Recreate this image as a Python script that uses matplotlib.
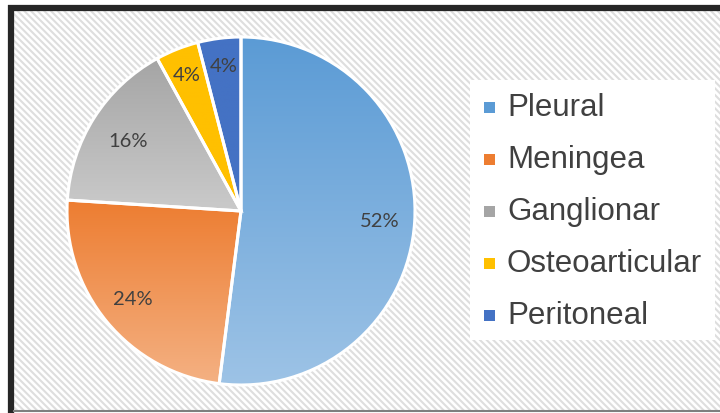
import numpy as np
import matplotlib
matplotlib.use("Agg")
import matplotlib.pyplot as plt
from matplotlib.colors import LinearSegmentedColormap
from matplotlib.patches import Rectangle

# share of cases by localisation
categories = ["Pleural", "Meningea", "Ganglionar", "Osteoarticular", "Peritoneal"]
shares = [52, 24, 16, 4, 4]
labels = ["52%", "24%", "16%", "4%", "4%"]
# (top colour, bottom colour) of each slice's fill gradient
fills = [("#5B9BD5", "#9DC3E6"),
         ("#ED7D31", "#F4B183"),
         ("#A5A5A5", "#CACACA"),
         ("#FFC000", "#FFC000"),
         ("#4472C4", "#4472C4")]

W, H = 720, 413
plt.rcParams["hatch.linewidth"] = 1.5
plt.rcParams["hatch.color"] = "#DEDEDE"

fig = plt.figure(figsize=(W / 100, H / 100), dpi=100)
fig.patch.set_facecolor("white")

# background axes in pixel units for the frame, hatching and legend
bg = fig.add_axes([0, 0, 1, 1])
bg.set_xlim(0, W)
bg.set_ylim(H, 0)
bg.axis("off")
bg.add_patch(Rectangle((14, 10), W - 14, 400, facecolor="white",
                       edgecolor="#DEDEDE", hatch="\\\\\\\\\\", linewidth=0))
bg.plot([8, W], [7.5, 7.5], color="#262626", lw=4.5, solid_capstyle="butt")
bg.plot([11, 11], [5, H], color="#262626", lw=4.5, solid_capstyle="butt")
bg.plot([14, W], [411, 411], color="#7F7F7F", lw=1.5)

# pie axes
pie_ax = fig.add_axes([67 / W, (H - 385) / H, 348 / W, 348 / H])
wedges, _ = pie_ax.pie(shares, startangle=90, counterclock=False,
                       radius=1.0,
                       wedgeprops=dict(edgecolor="white", linewidth=2.2))
pie_ax.axis("off")

# gradient fill, clipped to each slice
for w, (top, bottom) in zip(wedges, fills):
    w.set_facecolor("none")
    ext = w.get_path().get_extents(w.get_patch_transform())
    cmap = LinearSegmentedColormap.from_list("g", [top, bottom])
    grad = np.linspace(0, 1, 256).reshape(-1, 1)
    im = pie_ax.imshow(grad, cmap=cmap, aspect="auto",
                       extent=(ext.x0, ext.x1, ext.y0, ext.y1),
                       origin="upper", zorder=w.get_zorder() - 0.1)
    im.set_clip_path(w)
pie_ax.set_xlim(-1, 1)
pie_ax.set_ylim(-1, 1)

# percentage labels
label_pos = [(0.80, -0.06), (-0.62, -0.51), (-0.65, 0.40),
             (-0.31, 0.78), (-0.10, 0.83)]
for (x, y), txt in zip(label_pos, labels):
    pie_ax.text(x, y, txt, ha="center", va="center", fontsize=14.5,
                color="#404040", family="Lato", zorder=5)

# legend box
bg.add_patch(Rectangle((470, 80), 245, 260, facecolor="white",
                       edgecolor="none", zorder=3))
for i, (name, (top, bottom)) in enumerate(zip(categories, fills)):
    y = 107 + i * 52
    bg.add_patch(Rectangle((484, y - 5), 11, 11, facecolor=top,
                           edgecolor="none", zorder=4))
    bg.text(507, y + 1, name, ha="left", va="center", fontsize=22.5,
            color="#404040", family="Liberation Sans", zorder=4)

fig.savefig("out.png", dpi=100)
